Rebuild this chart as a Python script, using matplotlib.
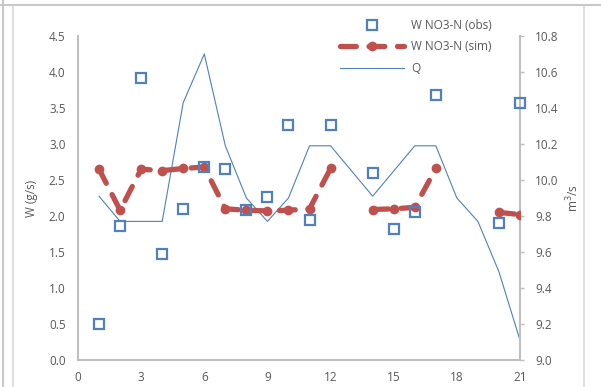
import numpy as np
import matplotlib
matplotlib.use("Agg")
import matplotlib.pyplot as plt
from matplotlib.lines import Line2D

# ---- data ----
x = list(range(1, 22))
obs = [0.50, 1.86, 3.92, 1.47, 2.10, 2.68, 2.65, 2.08, 2.26, 3.27, 1.95, 3.26,
       np.nan, 2.60, 1.82, 2.05, 3.68, np.nan, np.nan, 1.90, 3.57]
sim = [2.65, 2.08, 2.65, 2.63, 2.66, 2.68, 2.10, 2.08, 2.07, 2.08, 2.10, 2.66,
       np.nan, 2.09, 2.10, 2.12, 2.66, np.nan, np.nan, 2.05, 2.02]
q = [9.91, 9.77, 9.77, 9.77, 10.43, 10.70, 10.19, 9.90, 9.77, 9.90, 10.19, 10.19,
     10.05, 9.91, 10.05, 10.19, 10.19, 9.90, 9.77, 9.49, 9.11]
labels = ["W NO3-N (obs)", "W NO3-N (sim)", "Q"]
xticks = [0, 3, 6, 9, 12, 15, 18, 21]
yticks_left = [0.0, 0.5, 1.0, 1.5, 2.0, 2.5, 3.0, 3.5, 4.0, 4.5]
yticks_right = [9.0, 9.2, 9.4, 9.6, 9.8, 10.0, 10.2, 10.4, 10.6, 10.8]

FONT = "Open Sans"
FS = 8.5
TC = "#595959"
SPC = "#BFBFBF"
BLUE = "#4F81BD"
RED = "#C0504D"

plt.rcParams['font.family'] = [FONT, 'DejaVu Sans']

fig = plt.figure(figsize=(6.01, 3.87), dpi=100)
W, H = 601, 387
ax = fig.add_axes([78 / W, 1 - 360 / H, (520 - 78) / W, (360 - 36) / H])
ax2 = ax.twinx()

# Q line on secondary axis
lq, = ax2.plot(x, q, color=BLUE, lw=0.8, zorder=2)
# sim
ls, = ax.plot(x, sim, color=RED, lw=3.8, dashes=(3.0, 2.4), marker='o',
              markersize=7, markeredgewidth=0,
              dash_capstyle='round', zorder=3)
# obs
lo, = ax.plot(x, obs, linestyle='none', marker='s', markersize=7,
              markerfacecolor='none', markeredgecolor=BLUE, markeredgewidth=1.6,
              zorder=4, clip_on=False)

ax.set_xlim(0, 21)
ax.set_ylim(0, 4.5)
ax2.set_ylim(9.0, 10.8)
ax.set_xticks(xticks)
ax.set_yticks(yticks_left)
ax2.set_yticks(yticks_right)
ax.set_xticklabels([str(t) for t in xticks])
ax.set_yticklabels([f"{t:.1f}" for t in yticks_left])
ax2.set_yticklabels([f"{t:.1f}" for t in yticks_right])

ax.set_zorder(ax2.get_zorder() + 1)
ax.patch.set_visible(False)

for a in (ax, ax2):
    a.spines['top'].set_visible(False)
    a.tick_params(labelsize=FS, labelcolor=TC, colors=SPC)
ax.spines['left'].set_color(SPC)
ax.spines['bottom'].set_color(SPC)
ax.spines['right'].set_visible(False)
ax2.spines['left'].set_visible(False)
ax2.spines['bottom'].set_visible(False)
ax2.spines['right'].set_color(SPC)
for a in (ax, ax2):
    for s in a.spines.values():
        s.set_linewidth(1.5)

ax.tick_params(axis='y', length=0, pad=9)
ax.tick_params(axis='x', length=0, pad=8)
ax2.tick_params(axis='y', length=3, width=1, pad=8, direction='out')

ax.set_ylabel("W (g/s)", fontsize=FS, color=TC, labelpad=8)
ax2.set_ylabel("m$^3$/s", fontsize=FS, color=TC, labelpad=4)

fig.legend([lo, ls, lq], labels, loc='upper left',
           bbox_to_anchor=(340 / W, 1 - 19 / H), frameon=False,
           fontsize=FS, labelcolor=TC, borderpad=0, borderaxespad=0,
           handlelength=5.4, handletextpad=0.6, labelspacing=0.72,
           numpoints=1)

# chart frame lines
frame_c = "#D9D9D9"
fig.add_artist(Line2D([3 / W, 3 / W], [0, 1], transform=fig.transFigure, color="#C8C8C8", lw=1.5))
fig.add_artist(Line2D([13 / W, 13 / W], [0, 1 - 5 / H], transform=fig.transFigure, color=frame_c, lw=1.2))
fig.add_artist(Line2D([584 / W, 584 / W], [0, 1 - 5 / H], transform=fig.transFigure, color=frame_c, lw=1.2))
fig.add_artist(Line2D([0, 1], [1 - 5 / H, 1 - 5 / H], transform=fig.transFigure, color="#C8C8C8", lw=1.5))

fig.savefig("out.png", dpi=100)
